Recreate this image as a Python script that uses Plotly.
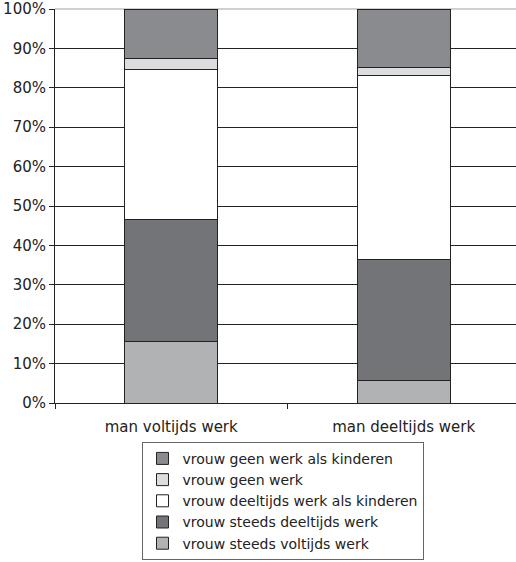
import plotly.graph_objects as go

categories = ["man voltijds werk", "man deeltijds werk"]
series_names = [
    "vrouw steeds voltijds werk",
    "vrouw steeds deeltijds werk",
    "vrouw deeltijds werk als kinderen",
    "vrouw geen werk",
    "vrouw geen werk als kinderen",
]
steeds_voltijds = [15.7, 5.8]
steeds_deeltijds = [31.0, 30.7]
deeltijds_als_kinderen = [37.9, 46.6]
geen_werk = [2.8, 2.1]
geen_werk_als_kinderen = [12.6, 14.8]
series_values = [steeds_voltijds, steeds_deeltijds, deeltijds_als_kinderen,
                 geen_werk, geen_werk_als_kinderen]
colors = ["#b1b2b4", "#737477", "#ffffff", "#dcdddf", "#8a8b8e"]
y_ticks = list(range(0, 101, 10))
y_tick_labels = [f"{v}%" for v in y_ticks]

FONT = "DejaVu Sans"

fig = go.Figure()
for name, vals, col in zip(series_names, series_values, colors):
    fig.add_trace(go.Bar(
        x=categories, y=vals, name=name, width=0.4,
        marker=dict(color=col, line=dict(color="#222222", width=1)),
    ))

fig.update_layout(
    barmode="stack",
    width=516, height=562,
    margin=dict(l=55, r=0, t=9, b=159, autoexpand=False),
    paper_bgcolor="white", plot_bgcolor="white",
    font=dict(family=FONT, size=15, color="#222222"),
    showlegend=True,
    legend=dict(
        traceorder="reversed",
        x=0.4935, y=-0.398, xanchor="center", yanchor="bottom",
        bordercolor="#666666", borderwidth=1,
        font=dict(family=FONT, size=14, color="#222222"),
        tracegroupgap=0, itemwidth=30,
    ),
    xaxis=dict(
        range=[-0.5, 1.483], showgrid=False, showline=True,
        linecolor="#222222", linewidth=1,
        ticks="outside", tickson="boundaries", ticklen=5, tickcolor="#222222",
        tickfont=dict(family=FONT, size=15), ticklabelstandoff=10,
    ),
    yaxis=dict(
        range=[0, 100], tickvals=y_ticks, ticktext=y_tick_labels,
        showgrid=True, gridcolor="#222222", gridwidth=1,
        showline=True, linecolor="#222222", linewidth=1,
        ticks="outside", ticklen=5, tickcolor="#222222",
        tickfont=dict(family=FONT, size=15), zeroline=False,
        ticklabeloverflow="allow",
    ),
    shapes=[dict(type="line", xref="paper", yref="paper", x0=0, x1=1, y0=1, y1=1,
                 line=dict(color="#a0a0a0", width=1), layer="below")],
)

fig.write_html("out.html", config={"displayModeBar": False},
               post_script="document.body.style.margin='0';")
